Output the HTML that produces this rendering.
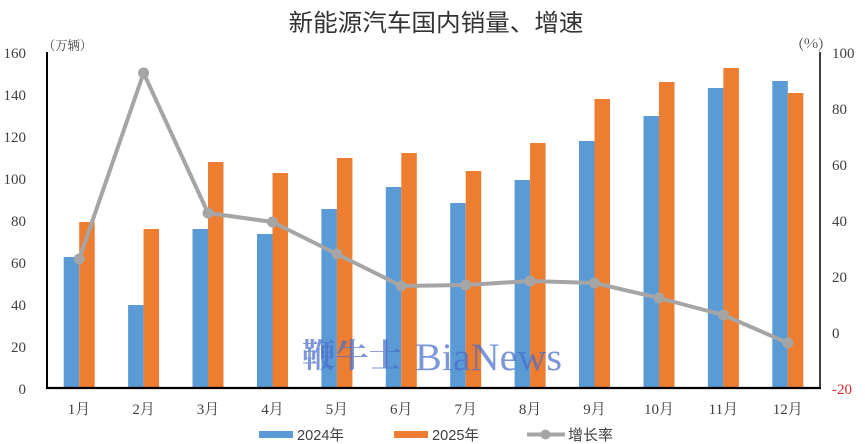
<!DOCTYPE html>
<html>
<head>
<meta charset="utf-8">
<style>
  html,body{margin:0;padding:0;background:#fff;}
  svg{display:block;}
  .tk{font-family:"Liberation Serif","Noto Serif CJK SC",serif;font-size:15px;fill:#404040;}
  .xl{font-family:"Liberation Serif","Noto Serif CJK SC",serif;font-size:15px;fill:#404040;}
  .lg{font-family:"Liberation Sans","Noto Sans CJK SC",sans-serif;font-size:15px;fill:#404040;}
</style>
</head>
<body>
<svg width="865" height="444" viewBox="0 0 865 444" xmlns="http://www.w3.org/2000/svg">
  <rect width="865" height="444" fill="#fff"/>

  <!-- Title -->
  <text x="436" y="31" text-anchor="middle" font-family="'Noto Sans CJK SC',sans-serif" font-size="24" fill="#333" textLength="295" lengthAdjust="spacingAndGlyphs">新能源汽车国内销量、增速</text>

  <!-- unit labels -->
  <text x="43" y="50" font-family="'Noto Serif CJK SC',serif" font-size="13" fill="#404040" textLength="49" lengthAdjust="spacingAndGlyphs">（万辆）</text>
  <text x="798" y="48" font-family="'Noto Serif CJK SC',serif" font-size="13" fill="#404040" textLength="26" lengthAdjust="spacingAndGlyphs">(%)</text>

  <!-- Bars 2024 (blue) -->
  <g fill="#5B9BD5">
    <rect x="63.7" y="257" width="15.5" height="131"/>
    <rect x="128.1" y="305" width="15.5" height="83"/>
    <rect x="192.5" y="229" width="15.5" height="159"/>
    <rect x="257.0" y="234" width="15.5" height="154"/>
    <rect x="321.4" y="209" width="15.5" height="179"/>
    <rect x="385.8" y="187" width="15.5" height="201"/>
    <rect x="450.2" y="203" width="15.5" height="185"/>
    <rect x="514.6" y="180" width="15.5" height="208"/>
    <rect x="579.0" y="141" width="15.5" height="247"/>
    <rect x="643.5" y="116" width="15.5" height="272"/>
    <rect x="707.9" y="88" width="15.5" height="300"/>
    <rect x="772.3" y="81" width="15.5" height="307"/>
  </g>
  <!-- Bars 2025 (orange) -->
  <g fill="#ED7D31">
    <rect x="79.2" y="222" width="15.5" height="166"/>
    <rect x="143.6" y="229" width="15.5" height="159"/>
    <rect x="208.0" y="162" width="15.5" height="226"/>
    <rect x="272.5" y="173" width="15.5" height="215"/>
    <rect x="336.9" y="158" width="15.5" height="230"/>
    <rect x="401.3" y="153" width="15.5" height="235"/>
    <rect x="465.7" y="171" width="15.5" height="217"/>
    <rect x="530.1" y="143" width="15.5" height="245"/>
    <rect x="594.5" y="99" width="15.5" height="289"/>
    <rect x="659.0" y="82" width="15.5" height="306"/>
    <rect x="723.4" y="68" width="15.5" height="320"/>
    <rect x="787.8" y="93" width="15.5" height="295"/>
  </g>

  <!-- Growth line -->
  <polyline fill="none" stroke="#A5A5A5" stroke-width="4" stroke-linejoin="round" stroke-linecap="round"
    points="79.2,259 143.6,73 208,213 272.5,222 336.9,254 401.3,286 465.7,285 530.1,281 594.5,283 659,298 723.4,315 787.8,343"/>
  <g fill="#A5A5A5">
    <circle cx="79.2" cy="259" r="5.5"/>
    <circle cx="143.6" cy="73" r="5.5"/>
    <circle cx="208" cy="213" r="5.5"/>
    <circle cx="272.5" cy="222" r="5.5"/>
    <circle cx="336.9" cy="254" r="5.5"/>
    <circle cx="401.3" cy="286" r="5.5"/>
    <circle cx="465.7" cy="285" r="5.5"/>
    <circle cx="530.1" cy="281" r="5.5"/>
    <circle cx="594.5" cy="283" r="5.5"/>
    <circle cx="659" cy="298" r="5.5"/>
    <circle cx="723.4" cy="315" r="5.5"/>
    <circle cx="787.8" cy="343" r="5.5"/>
  </g>

  <!-- Watermark -->
  <g fill="#4A6ECC" fill-opacity="0.72">
    <text x="302" y="367" font-family="'Noto Serif CJK SC',serif" font-weight="bold" font-size="33" textLength="100" lengthAdjust="spacingAndGlyphs">鞭牛士</text>
    <text x="415" y="370" font-family="'Liberation Serif',serif" font-size="39" textLength="147" lengthAdjust="spacingAndGlyphs">BiaNews</text>
  </g>

  <!-- Axes -->
  <line x1="47" y1="52" x2="47" y2="389" stroke="#000" stroke-width="2"/>
  <line x1="820" y1="52" x2="820" y2="389" stroke="#000" stroke-width="1.5"/>
  <line x1="46" y1="388" x2="821" y2="388" stroke="#000" stroke-width="2.2"/>

  <!-- Left tick labels -->
  <g class="tk" text-anchor="end">
    <text x="26" y="58">160</text>
    <text x="26" y="100">140</text>
    <text x="26" y="142">120</text>
    <text x="26" y="184">100</text>
    <text x="26" y="226">80</text>
    <text x="26" y="268">60</text>
    <text x="26" y="310">40</text>
    <text x="26" y="352">20</text>
    <text x="26" y="394">0</text>
  </g>
  <!-- Right tick labels -->
  <g class="tk" text-anchor="start">
    <text x="832" y="58">100</text>
    <text x="832" y="114">80</text>
    <text x="832" y="170">60</text>
    <text x="832" y="226">40</text>
    <text x="832" y="282">20</text>
    <text x="832" y="338">0</text>
    <text x="832" y="394" fill="#E0282E">-20</text>
  </g>

  <!-- X labels -->
  <g class="xl" text-anchor="middle">
    <text x="79" y="414">1月</text>
    <text x="143.6" y="414">2月</text>
    <text x="208" y="414">3月</text>
    <text x="272.5" y="414">4月</text>
    <text x="336.9" y="414">5月</text>
    <text x="401.3" y="414">6月</text>
    <text x="465.7" y="414">7月</text>
    <text x="530.1" y="414">8月</text>
    <text x="594.5" y="414">9月</text>
    <text x="659" y="414">10月</text>
    <text x="723.4" y="414">11月</text>
    <text x="787.8" y="414">12月</text>
  </g>

  <!-- Legend -->
  <rect x="259" y="431" width="34" height="7" fill="#5B9BD5"/>
  <text class="lg" x="297" y="440" textLength="47" lengthAdjust="spacingAndGlyphs">2024年</text>
  <rect x="394" y="431" width="34" height="7" fill="#ED7D31"/>
  <text class="lg" x="432" y="440" textLength="47" lengthAdjust="spacingAndGlyphs">2025年</text>
  <line x1="527" y1="434.5" x2="565" y2="434.5" stroke="#A5A5A5" stroke-width="4"/>
  <circle cx="545.5" cy="434.5" r="5" fill="#A5A5A5"/>
  <text class="lg" x="568" y="440" textLength="45" lengthAdjust="spacingAndGlyphs">增长率</text>
</svg>
</body>
</html>
